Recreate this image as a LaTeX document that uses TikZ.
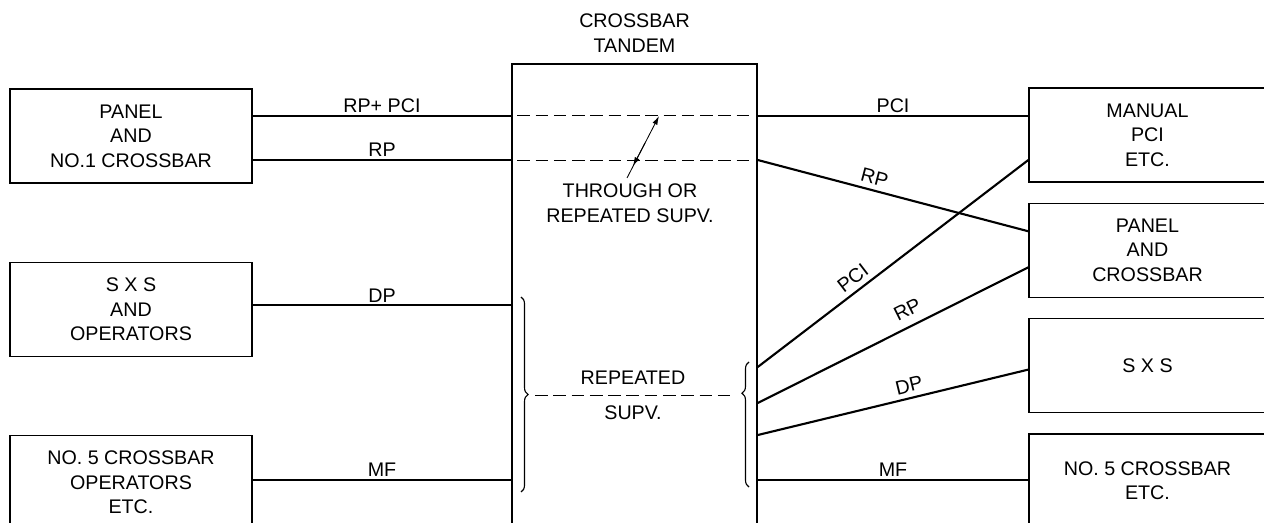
\documentclass[tikz,border=0pt]{standalone}
\usepackage{fontspec}
\setmainfont{Liberation Sans}
\usetikzlibrary{arrows.meta,positioning,decorations.pathreplacing}

\begin{document}
\begin{tikzpicture}[
    x=0.025cm, y=-0.025cm,
    node distance=1.95cm and 0.6cm,
    font=\fontsize{14}{17.4}\selectfont,
    box/.style={draw, line width=0.9pt, minimum width=6.05cm, minimum height=2.35cm, align=center, inner sep=2pt},
    rbox/.style={draw, line width=0.9pt, minimum width=5.925cm, minimum height=2.35cm, align=center, inner sep=2pt},
    link/.style={line width=1.5pt},
    tag/.style={above, inner sep=1.5pt},
    slant/.style={above, sloped, inner sep=3.5pt},
    supv/.style={dash pattern=on 9pt off 4pt, line width=0.7pt},
    curly/.style={decorate, decoration={brace, amplitude=5pt}, line width=0.8pt},
    pointer/.style={-{Latex[length=2.2mm,width=1.3mm]}, line width=0.6pt}
]
\useasboundingbox (0,0) rectangle (1264,523);
\clip (0,0) rectangle (1264,523);

\node[draw, line width=1pt, minimum width=6.125cm, minimum height=11.9cm] (tandem) at (634.5,302) {};
\node[above=0.27cm of tandem, align=center, inner sep=0pt] (title) {CROSSBAR\\TANDEM};

\node[box] (panel) at (131,136) {PANEL\\AND\\NO.1 CROSSBAR};
\node[box, below=of panel] (sxs) {S X S\\AND\\OPERATORS};
\node[box, below=of sxs] (xbar) {NO. 5 CROSSBAR\\OPERATORS\\ETC.};

\node[rbox] (manual) at (1147.5,135) {MANUAL\\PCI\\ETC.};
\node[rbox, below=0.5cm of manual] (panelxb) {PANEL\\AND\\CROSSBAR};
\node[rbox, below=0.5cm of panelxb] (sxsr) {S X S};
\node[rbox, below=0.5cm of sxsr] (xbarr) {NO. 5 CROSSBAR\\ETC.};

\node[align=center] (through) at (630,203) {THROUGH OR\\REPEATED SUPV.};
\node (rep) at (633,378) {REPEATED};
\node (supv) at (633,413) {SUPV.};

\draw[link] ([yshift=0.5cm]panel.east) coordinate (a1) -- (a1 -| tandem.west) node[tag, midway] {RP+ PCI};
\draw[link] ([yshift=-0.6cm]panel.east) coordinate (a2) -- (a2 -| tandem.west) node[tag, midway] {RP};
\draw[link] ([yshift=0.1cm]sxs.east) coordinate (a3) -- (a3 -| tandem.west) node[tag, midway] {DP};
\draw[link] ([yshift=0.075cm]xbar.east) coordinate (a4) -- (a4 -| tandem.west) node[tag, midway] {MF};

\draw[link] (a1 -| tandem.east) -- (a1 -| manual.west) node[tag, midway] {PCI};
\draw[link] (a2 -| tandem.east) -- ([yshift=0.475cm]panelxb.west) node[slant, pos=0.42] {RP};
\draw[link] ([yshift=-1.625cm]tandem.east) -- ([yshift=-0.625cm]manual.west) node[slant, pos=0.38] {PCI};
\draw[link] ([yshift=-2.525cm]tandem.east) -- ([yshift=-0.425cm]panelxb.west) node[slant, pos=0.58, inner sep=6pt] {RP};
\draw[link] ([yshift=-3.325cm]tandem.east) -- ([yshift=-0.1cm]sxsr.west) node[slant, pos=0.57] {DP};
\draw[link] (a4 -| tandem.east) -- (a4 -| xbarr.west) node[tag, midway] {MF};

\draw[supv, shorten <=0.15cm, shorten >=0.1cm] (a1 -| tandem.west) -- (a1 -| tandem.east);
\draw[supv, shorten <=0.15cm, shorten >=0.1cm] (a2 -| tandem.west) -- (a2 -| tandem.east);
\draw[supv] (535,395) -- (732,395);

\draw[pointer] (627,178) -- (659,116);
\draw[pointer] (645,143) -- (633,166);

\draw[curly] (521,297) -- (521,492);
\draw[curly, decoration={aspect=0.75}] (749,487) -- (749,362);
\end{tikzpicture}
\end{document}
